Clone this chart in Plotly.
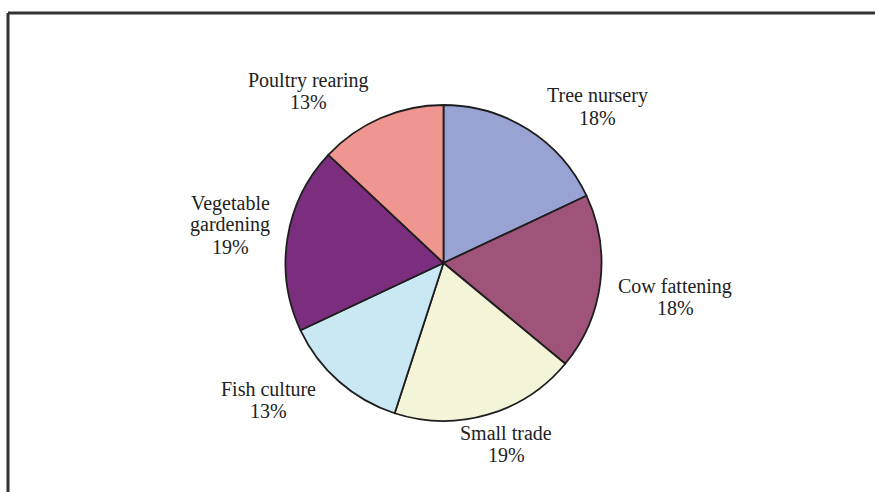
import plotly.graph_objects as go

# Share of activities (percent)
activities = ["Tree nursery", "Cow fattening", "Small trade", "Fish culture",
              "Vegetable gardening", "Poultry rearing"]
shares = [18, 18, 19, 13, 19, 13]
slice_colors = ["#98A3D3", "#A05379", "#F4F4D8", "#C9E8F4", "#7B2E7D", "#EF9690"]

# Label text lines (wrapped names)
label_lines = [["Tree nursery"], ["Cow fattening"], ["Small trade"], ["Fish culture"],
               ["Vegetable", "gardening"], ["Poultry rearing"]]

W, H = 875, 492
# Label block centres in pixels (x, y from top)
label_pos = [(597, 107), (675, 297), (506, 444), (268, 400), (230, 225), (308, 91)]
line_step = 22

# Pie placement in pixels
cx, cy, r = 443.5, 263, 158

fig = go.Figure()
fig.add_trace(go.Pie(
    labels=activities,
    values=shares,
    sort=False,
    direction="clockwise",
    rotation=0,
    marker=dict(colors=slice_colors, line=dict(color="#1e1e1e", width=1.8)),
    textinfo="none",
    hoverinfo="label+percent",
    showlegend=False,
    domain=dict(x=[(cx - r) / W, (cx + r) / W],
                y=[(H - cy - r) / H, (H - cy + r) / H]),
))

annotations = []
for name_lines, val, (px, py) in zip(label_lines, shares, label_pos):
    lines = name_lines + [f"{val}%"]
    n = len(lines)
    for i, txt in enumerate(lines):
        ly = py + (i - (n - 1) / 2) * line_step
        annotations.append(dict(
            x=px / W, y=1 - ly / H, xref="paper", yref="paper",
            text=txt, showarrow=False, xanchor="center", yanchor="middle",
            font=dict(family="Liberation Serif, serif", size=20, color="#222222"),
        ))

# Frame: top and left rules
shapes = [
    dict(type="line", xref="paper", yref="paper",
         x0=8 / W, x1=1.02, y0=1 - 13 / H, y1=1 - 13 / H,
         line=dict(color="#333333", width=3)),
    dict(type="line", xref="paper", yref="paper",
         x0=8 / W, x1=8 / W, y0=1 - 13 / H, y1=-0.05,
         line=dict(color="#333333", width=3)),
]

fig.update_layout(
    width=W, height=H,
    margin=dict(l=0, r=0, t=0, b=0),
    paper_bgcolor="white",
    plot_bgcolor="white",
    annotations=annotations,
    shapes=shapes,
)

fig.write_html("out.html")
